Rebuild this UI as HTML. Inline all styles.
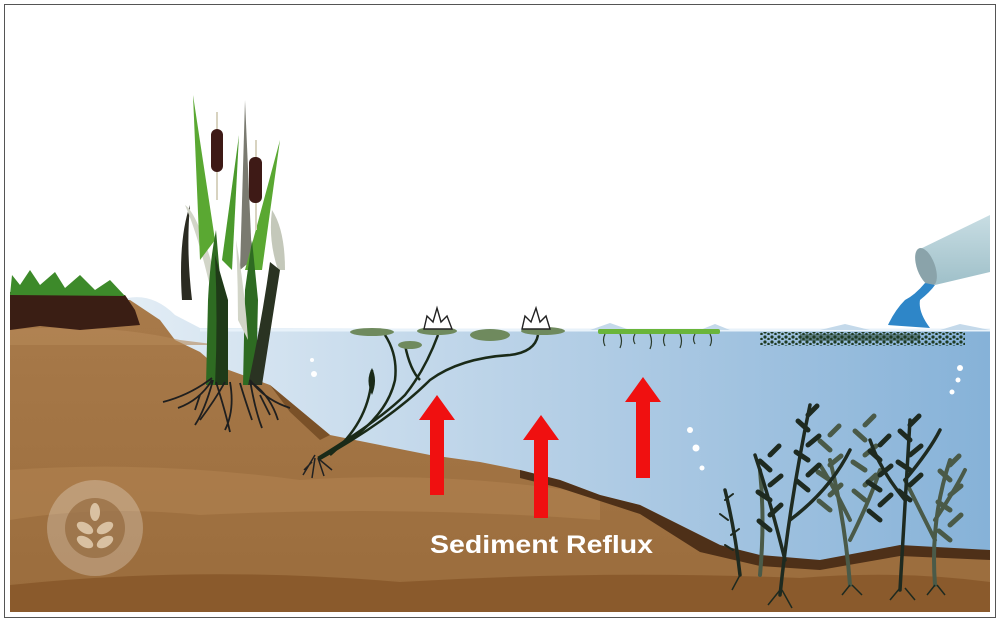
<!DOCTYPE html>
<html><head><meta charset="utf-8"><style>
html,body{margin:0;padding:0;background:#fff;width:1000px;height:622px;overflow:hidden}
</style></head><body>
<svg width="1000" height="622" viewBox="0 0 1000 622" xmlns="http://www.w3.org/2000/svg">
<defs>
<linearGradient id="w" x1="0" x2="1" y1="0" y2="0">
<stop offset="0" stop-color="#e3edf5"/><stop offset="0.5" stop-color="#b5cfe6"/><stop offset="1" stop-color="#86b2d8"/>
</linearGradient>
<linearGradient id="s" x1="0" x2="0" y1="0" y2="1">
<stop offset="0" stop-color="#a87a4a"/><stop offset="1" stop-color="#9a6c3c"/>
</linearGradient>
<linearGradient id="p" x1="0" x2="0" y1="0" y2="1">
<stop offset="0" stop-color="#c8dde3"/><stop offset="1" stop-color="#9fc0c9"/>
</linearGradient>
<pattern id="dots" width="7" height="5" patternUnits="userSpaceOnUse"><circle cx="2" cy="2" r="1.6" fill="#1e3a22"/><circle cx="5.5" cy="4" r="1.3" fill="#1e3a22"/></pattern>
<g id="leafy">
<path d="M0 0 l-11 -9 M0 -15 l11 -10 M0 -30 l-12 -8 M0 -45 l11 -9 M0 -60 l-10 -9 M0 -75 l9 -9" stroke-width="5"/>
</g>
</defs>
<rect x="0" y="0" width="1000" height="622" fill="#fff"/>
<rect x="4.5" y="4.5" width="991" height="613" fill="none" stroke="#555" stroke-width="1"/>
<path d="M120 300 Q150 290 175 315 L200 328 L990 330 L990 590 L120 590 Z" fill="url(#w)"/>
<path d="M200 330 L990 330" stroke="#e8f2fa" stroke-width="3"/>
<g fill="#c4d9ea"><path d="M590 330 l20 -7 l20 7z M700 330 l15 -6 l15 6z M820 330 l25 -6 l25 6z M940 330 l20 -6 l30 6z"/></g>
<path d="M10 300 L130 300 L160 320 L175 340 L200 352 L215 365 L270 385 L300 410 L330 435 L380 445 L430 455 L480 462 L520 470 L560 480 L600 495 L640 505 L680 525 L720 545 L760 560 L820 560 L900 548 L990 550 L990 612 L10 612 Z" fill="url(#s)"/>
<path d="M10 330 Q100 322 180 340 L220 345 L10 345Z" fill="#b58858" opacity=".6"/>
<path d="M10 470 Q150 460 300 480 Q450 470 600 495 L600 520 Q400 505 200 515 Q100 505 10 520 Z" fill="#b08250" opacity=".6"/>
<path d="M10 585 Q200 565 400 582 Q600 570 800 578 Q900 570 990 582 L990 612 L10 612Z" fill="#8a5a2c"/>
<path d="M520 470 L560 480 L600 495 L640 505 L680 525 L720 545 L760 555 L820 560 L900 545 L990 550 L990 560 L900 556 L820 570 L760 566 L700 552 L640 514 L560 488 L520 478Z" fill="#4e3018"/>
<path d="M270 385 L300 410 L330 435 L320 440 L290 412 Z" fill="#7a5128"/>
<path d="M10 292 L125 295 L135 310 L140 325 L80 330 L40 326 L10 330Z" fill="#3a1e14"/>
<path d="M10 295 L12 275 L20 285 L30 270 L40 285 L55 272 L65 288 L80 275 L95 290 L110 280 L125 296 Z" fill="#3d8a2a"/>
<path d="M182 300 Q178 240 190 205 Q186 250 192 300Z" fill="#2b2b22"/>
<path d="M213 300 Q200 240 185 205 Q200 215 222 300Z" fill="#d2d5c8"/>
<path d="M285 270 Q285 230 272 210 Q268 240 278 270Z" fill="#c4c8ba"/>
<path d="M200 260 L193 95 L215 240Z" fill="#5aa832"/>
<path d="M240 270 L245 100 L252 260Z" fill="#7a7a70"/>
<path d="M245 270 L280 140 L262 270Z" fill="#5aa832"/>
<path d="M222 260 L239 135 L232 270Z" fill="#4b9a2c"/>
<path d="M206 385 L208 300 Q210 260 216 230 L222 300 L220 385Z" fill="#2e6b22"/>
<path d="M243 385 L245 290 L252 240 L258 300 L256 385Z" fill="#2e6b22"/>
<path d="M215 385 Q218 320 215 255 L228 300 L228 385Z" fill="#1f3a18"/>
<path d="M248 385 Q262 320 270 262 L280 270 L262 385Z" fill="#2a3322"/>
<path d="M238 320 Q238 280 236 240 Q245 290 248 340Z" fill="#d2d5c8"/>
<line x1="217" y1="112" x2="217" y2="200" stroke="#d8d3c0" stroke-width="2"/>
<line x1="256" y1="140" x2="256" y2="230" stroke="#d8d3c0" stroke-width="2"/>
<rect x="211" y="129" width="12" height="43" rx="6" fill="#3e1a16"/>
<rect x="249" y="157" width="13" height="46" rx="6" fill="#3e1a16"/>
<g stroke="#1f1f1f" stroke-width="1.8" fill="none">
<path d="M212 378 Q190 395 163 402 M212 380 Q200 400 178 408 M213 380 Q205 410 195 425 M216 382 Q225 410 230 432 M250 380 Q265 400 290 408 M250 380 Q255 410 262 428 M225 382 Q215 400 200 420 M240 383 Q245 400 252 420 M230 382 Q235 410 225 430 M252 383 Q270 395 278 420 M200 395 l-5 15 M260 395 l10 20"/>
</g>
<g stroke="#1a2a18" stroke-width="2.5" fill="none">
<path d="M318 458 Q380 420 405 395 Q425 370 438 335"/>
<path d="M318 460 Q390 420 430 380 Q460 358 510 355 Q535 352 538 335"/>
<path d="M320 458 Q385 425 395 380 Q398 355 385 335"/>
<path d="M330 455 Q372 420 372 370"/>
<path d="M420 380 Q410 370 405 345"/>
</g>
<path d="M372 368 Q365 380 372 395 Q378 380 372 368Z" fill="#1a2a18"/>
<ellipse cx="372" cy="332" rx="22" ry="4" fill="#6f8a5e"/>
<ellipse cx="437" cy="331" rx="20" ry="4" fill="#6f8a5e"/>
<ellipse cx="410" cy="345" rx="12" ry="4" fill="#6f8a5e"/>
<ellipse cx="490" cy="335" rx="20" ry="6" fill="#6f8a5e"/>
<ellipse cx="543" cy="331" rx="22" ry="4" fill="#6f8a5e"/>
<path d="M424 329 L427 316 L433 322 L437 308 L441 322 L447 316 L452 329Z" fill="#fff" stroke="#222" stroke-width="1.4"/>
<path d="M522 329 L525 316 L531 322 L536 308 L540 322 L546 316 L550 329Z" fill="#fff" stroke="#222" stroke-width="1.4"/>
<g stroke="#222" stroke-width="1.5" fill="none"><path d="M315 455 l-12 20 M315 458 l-3 20 M318 458 l6 18 M320 460 l12 10 M312 462 l-8 8"/></g>
<rect x="598" y="329" width="122" height="5" rx="2" fill="#6ab53a"/>
<g stroke="#2a3a2a" stroke-width="1.2" fill="none"><path d="M605 334 q-3 6 0 12 M620 334 q3 7 0 14 M635 334 q-3 5 0 10 M650 334 q3 8 0 15 M665 334 q-3 6 0 12 M680 334 q3 7 0 14 M695 334 q-3 5 0 10 M710 334 q3 6 0 12"/></g>
<rect x="760" y="332" width="205" height="14" fill="url(#dots)"/>
<rect x="800" y="334" width="120" height="7" fill="#1e3a22" opacity=".5"/>
<path d="M918 250 L990 215 L990 272 L935 285Z" fill="url(#p)"/>
<ellipse cx="926" cy="267" rx="9" ry="20" fill="#8aa3aa" transform="rotate(-20 926 267)"/>
<path d="M925 283 Q915 295 905 300 Q895 310 888 325 L930 328 Q918 312 920 300 Q930 292 935 285Z" fill="#2e86c8"/>
<g stroke="#4a5a48" stroke-width="4" fill="none" stroke-linecap="round">
<path d="M760 575 Q765 520 760 470"/><path d="M850 585 Q845 520 830 460 M850 540 Q870 500 880 470 M850 520 Q830 480 820 465"/>
<path d="M935 585 Q930 520 950 460 M935 540 Q915 500 905 480 M935 520 Q955 490 965 470"/>
<use href="#leafy" x="830" y="510" stroke="#4a5a48"/><use href="#leafy" x="950" y="540" stroke="#4a5a48"/>
<use href="#leafy" x="865" y="500" stroke="#4a5a48"/>
</g>
<g stroke="#1e2a20" stroke-width="3.5" fill="none" stroke-linecap="round">
<path d="M740 575 Q735 530 725 490"/><path d="M780 595 Q790 500 810 405"/><path d="M785 560 Q770 500 755 455"/>
<path d="M790 520 Q830 490 850 450"/>
<path d="M900 590 Q905 510 910 420 M905 500 Q880 470 870 440 M905 480 Q930 450 940 430"/>
<use href="#leafy" x="808" y="490" stroke="#1e2a20"/><use href="#leafy" x="910" y="500" stroke="#1e2a20"/>
<use href="#leafy" x="770" y="530" stroke="#1e2a20"/><use href="#leafy" x="880" y="520" stroke="#1e2a20"/>
<path d="M728 520 l-8 -6 M731 535 l8 -6 M733 550 l-8 -5 M725 500 l8 -6" stroke-width="2"/>
</g>
<g stroke="#1e2a20" stroke-width="1.5" fill="none"><path d="M780 590 l-12 15 M782 590 l10 18 M740 575 l-8 15 M900 588 l-10 12 M905 588 l10 12 M850 585 l-8 10 M852 585 l10 10 M935 585 l-8 10 M937 585 l8 10"/></g>
<g fill="#fff"><circle cx="690" cy="430" r="3"/><circle cx="696" cy="448" r="3.5"/><circle cx="702" cy="468" r="2.5"/><circle cx="960" cy="368" r="3"/><circle cx="958" cy="380" r="2.5"/><circle cx="952" cy="392" r="2.5"/><circle cx="312" cy="360" r="2"/><circle cx="314" cy="374" r="3"/></g>
<g fill="#f01010">
<path d="M430 495 V420 H419 L437 395 L455 420 H444 V495Z"/>
<path d="M534 518 V440 H523 L541 415 L559 440 H548 V518Z"/>
<path d="M636 478 V402 H625 L643 377 L661 402 H650 V478Z"/>
</g>
<text x="430" y="553" fill="#fff" font-family="Liberation Sans, sans-serif" font-weight="bold" font-size="25" textLength="223" lengthAdjust="spacingAndGlyphs">Sediment Reflux</text>
<circle cx="95" cy="528" r="48" fill="#fff" opacity=".25"/>
<circle cx="95" cy="528" r="30" fill="#8d6336" opacity=".6"/>
<g fill="#e8d4b8" opacity=".8"><ellipse cx="95" cy="512" rx="5" ry="9"/><ellipse cx="85" cy="528" rx="9" ry="5" transform="rotate(30 85 528)"/><ellipse cx="105" cy="528" rx="9" ry="5" transform="rotate(-30 105 528)"/><ellipse cx="85" cy="542" rx="9" ry="5" transform="rotate(30 85 542)"/><ellipse cx="105" cy="542" rx="9" ry="5" transform="rotate(-30 105 542)"/></g>
</svg>
</body></html>
